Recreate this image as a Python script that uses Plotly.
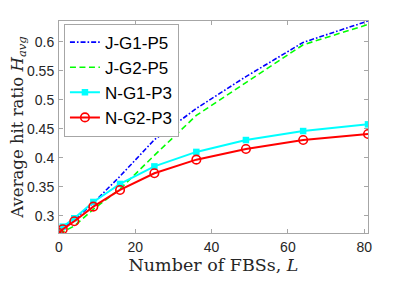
import plotly.graph_objects as go

L = [0, 1, 4, 9, 16, 25, 36, 49, 64, 81]
j_g1_p5 = [0.270, 0.278, 0.293, 0.322, 0.368, 0.431, 0.485, 0.540, 0.599, 0.636]
j_g2_p5 = [0.270, 0.272, 0.282, 0.311, 0.346, 0.404, 0.473, 0.530, 0.595, 0.630]
n_g1_p3 = [0.272, 0.281, 0.2955, 0.3236, 0.3547, 0.385, 0.410, 0.4305, 0.446, 0.4576]
n_g2_p3 = [0.270, 0.2766, 0.2903, 0.3155, 0.3443, 0.3731, 0.3966, 0.415, 0.4305, 0.4409]

names = ["J-G1-P5", "J-G2-P5", "N-G1-P3", "N-G2-P3"]
x_ticks = [0, 20, 40, 60, 80]
y_ticks = [0.3, 0.35, 0.4, 0.45, 0.5, 0.55, 0.6]

fig = go.Figure()
fig.add_trace(go.Scatter(x=L, y=j_g1_p5, name=names[0], mode="lines",
                         line=dict(color="#0000ff", width=1.6, dash="5px,2px,1.6px,2px")))
fig.add_trace(go.Scatter(x=L, y=j_g2_p5, name=names[1], mode="lines",
                         line=dict(color="#00ff00", width=1.6, dash="6px,3.5px")))
fig.add_trace(go.Scatter(x=L, y=n_g1_p3, name=names[2], mode="lines+markers",
                         line=dict(color="#00ffff", width=2),
                         marker=dict(symbol="square", size=6.5, color="#00ffff")))
fig.add_trace(go.Scatter(x=L, y=n_g2_p3, name=names[3], mode="lines+markers",
                         line=dict(color="#ff0000", width=2),
                         marker=dict(symbol="circle-open", size=8.5, color="#ff0000",
                                     line=dict(width=1.6, color="#ff0000"))))

axis_common = dict(showgrid=False, zeroline=False, showline=True, mirror="ticks",
                   linecolor="#a6a6a6", linewidth=1, ticks="inside", ticklen=4,
                   tickcolor="#a6a6a6", automargin=False,
                   tickfont=dict(family="Liberation Sans, Arial", size=14, color="#262626"))

fig.update_layout(
    width=399, height=274,
    margin=dict(l=51, r=39, t=13, b=49),
    paper_bgcolor="white", plot_bgcolor="white",
    xaxis=dict(range=[0, 81], tickvals=x_ticks, ticklabelstandoff=1,
               title=dict(text="Number of FBSs, <i>L</i>", standoff=2,
                          font=dict(family="DejaVu Serif, Liberation Serif", size=17.5, color="#262626")),
               **axis_common),
    yaxis=dict(range=[0.27, 0.636], tickvals=y_ticks, ticktext=[str(v) for v in y_ticks],
               ticklabelstandoff=1,
               title=dict(text="Average hit ratio <i>H</i><sub><i>avg</i></sub>", standoff=5,
                          font=dict(family="DejaVu Serif, Liberation Serif", size=16.5, color="#262626")),
               **axis_common),
    legend=dict(x=0.016, y=0.988, xanchor="left", yanchor="top",
                bgcolor="white", bordercolor="#a6a6a6", borderwidth=1,
                font=dict(family="Liberation Sans, Arial", size=17, color="black"),
                itemwidth=30, tracegroupgap=0),
    showlegend=True,
)

fig.write_html("out.html")
